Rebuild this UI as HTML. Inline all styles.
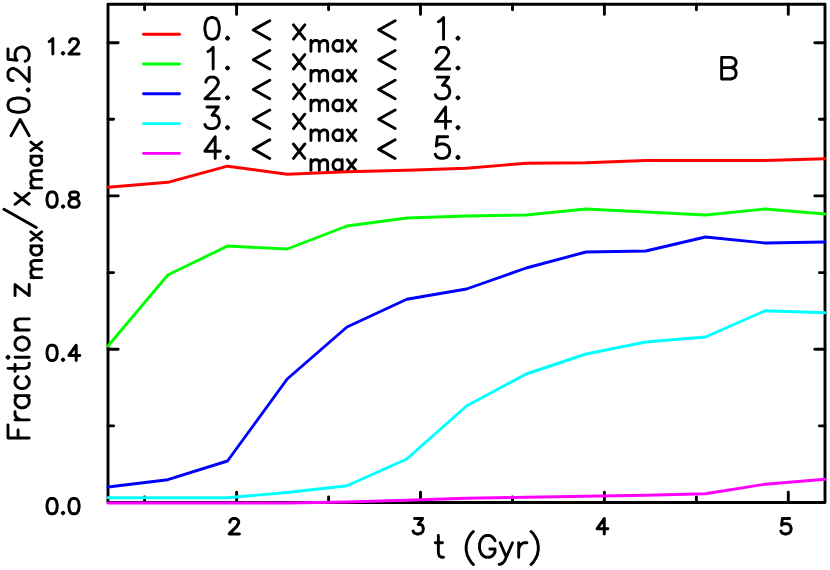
<!DOCTYPE html><html><head><meta charset="utf-8"><title>Fraction zmax/xmax&gt;0.25 vs t (Gyr) - panel B</title><style>html,body{margin:0;padding:0;background:#fff;overflow:hidden;width:830px;height:570px}svg{display:block}text{font-family:"Liberation Sans",sans-serif;fill:#000;fill-opacity:0;stroke:none}</style></head><body>
<svg width="830" height="570" viewBox="0 0 830 570" role="img" aria-label="Line chart B: Fraction zmax/xmax&gt;0.25 versus t (Gyr) for five xmax ranges">
<title>Fraction zmax/xmax&gt;0.25 versus t (Gyr), panel B</title>
<desc>Five curves for 0. &lt; xmax &lt; 1. (red), 1. &lt; xmax &lt; 2. (green), 2. &lt; xmax &lt; 3. (blue), 3. &lt; xmax &lt; 4. (cyan), 4. &lt; xmax &lt; 5. (magenta); x axis t (Gyr) from 1.3 to 5.2, y axis 0.0 to 1.3. Text is drawn as Hershey-style stroke paths.</desc>
<rect width="830" height="570" fill="#fff"/>
<clipPath id="c"><rect x="108.0" y="4.2" width="718.4" height="501.3"/></clipPath>
<g fill="none" stroke="#000" stroke-width="2.9" stroke-linecap="round" stroke-linejoin="round">
<rect x="108.0" y="4.2" width="717.0" height="498.3"/>
<path d="M144.6,502.5v-5.6M144.6,4.2v5.6M236.6,502.5v-10.2M236.6,4.2v10.2M328.6,502.5v-5.6M328.6,4.2v5.6M420.5,502.5v-10.2M420.5,4.2v10.2M512.5,502.5v-5.6M512.5,4.2v5.6M604.4,502.5v-10.2M604.4,4.2v10.2M696.4,502.5v-5.6M696.4,4.2v5.6M788.3,502.5v-10.2M788.3,4.2v10.2M108.0,425.9h5.6M825.0,425.9h-5.6M108.0,349.2h10.2M825.0,349.2h-10.2M108.0,272.6h5.6M825.0,272.6h-5.6M108.0,195.9h10.2M825.0,195.9h-10.2M108.0,119.3h5.6M825.0,119.3h-5.6M108.0,42.7h10.2M825.0,42.7h-10.2"/>
</g>
<path d="M239.41,533.90L229.19,533.90L236.49,526.60L237.95,524.41L238.68,522.95L238.68,521.49L237.95,520.03L237.22,519.30L235.76,518.57L232.84,518.57L231.38,519.30L230.65,520.03L229.92,521.49L229.92,522.22M414.55,518.57L422.58,518.57L418.20,524.41L420.39,524.41L421.85,525.14L422.58,525.87L423.31,528.06L423.31,529.52L422.58,531.71L421.12,533.17L418.93,533.90L416.74,533.90L414.55,533.17L413.82,532.44L413.09,530.98M607.94,528.79L596.99,528.79L604.29,518.57L604.29,533.90M780.89,530.98L781.62,532.44L782.35,533.17L784.54,533.90L786.73,533.90L788.92,533.17L790.38,531.71L791.11,529.52L791.11,528.06L790.38,525.87L788.92,524.41L786.73,523.68L784.54,523.68L782.35,524.41L781.62,525.14L782.35,518.57L789.65,518.57M51.37,513.80L49.18,513.07L47.72,510.88L46.99,507.23L46.99,505.04L47.72,501.39L49.18,499.20L51.37,498.47L52.83,498.47L55.02,499.20L56.48,501.39L57.21,505.04L57.21,507.23L56.48,510.88L55.02,513.07L52.83,513.80ZM63.05,513.80L62.32,513.07L63.05,512.34L63.78,513.07ZM73.27,513.80L71.08,513.07L69.62,510.88L68.89,507.23L68.89,505.04L69.62,501.39L71.08,499.20L73.27,498.47L74.73,498.47L76.92,499.20L78.38,501.39L79.11,505.04L79.11,507.23L78.38,510.88L76.92,513.07L74.73,513.80ZM51.37,360.52L49.18,359.79L47.72,357.60L46.99,353.95L46.99,351.76L47.72,348.11L49.18,345.92L51.37,345.19L52.83,345.19L55.02,345.92L56.48,348.11L57.21,351.76L57.21,353.95L56.48,357.60L55.02,359.79L52.83,360.52ZM63.05,360.52L62.32,359.79L63.05,359.06L63.78,359.79ZM79.84,355.41L68.89,355.41L76.19,345.19L76.19,360.52M51.37,207.24L49.18,206.51L47.72,204.32L46.99,200.67L46.99,198.48L47.72,194.83L49.18,192.64L51.37,191.91L52.83,191.91L55.02,192.64L56.48,194.83L57.21,198.48L57.21,200.67L56.48,204.32L55.02,206.51L52.83,207.24ZM63.05,207.24L62.32,206.51L63.05,205.78L63.78,206.51ZM77.65,206.51L75.46,207.24L72.54,207.24L70.35,206.51L69.62,205.78L68.89,204.32L68.89,202.13L69.62,200.67L71.08,199.21L73.27,198.48L76.19,197.75L77.65,197.02L78.38,195.56L78.38,194.10L77.65,192.64L75.46,191.91L72.54,191.91L70.35,192.64L69.62,194.10L69.62,195.56L70.35,197.02L71.81,197.75L74.73,198.48L76.92,199.21L78.38,200.67L79.11,202.13L79.11,204.32L78.38,205.78ZM49.18,41.55L50.64,40.82L52.83,38.63L52.83,53.96M63.05,53.96L62.32,53.23L63.05,52.50L63.78,53.23ZM79.11,53.96L68.89,53.96L76.19,46.66L77.65,44.47L78.38,43.01L78.38,41.55L77.65,40.09L76.92,39.36L75.46,38.63L72.54,38.63L71.08,39.36L70.35,40.09L69.62,41.55L69.62,42.28" fill="none" stroke="#000" stroke-width="2.95" stroke-linecap="round" stroke-linejoin="round" />
<line x1="143.5" x2="179.5" y1="34.2" y2="34.2" stroke="#ff0000" stroke-width="2.9" stroke-linecap="round"/>
<line x1="143.5" x2="179.5" y1="64.0" y2="64.0" stroke="#00ff00" stroke-width="2.9" stroke-linecap="round"/>
<line x1="143.5" x2="179.5" y1="93.8" y2="93.8" stroke="#0000ff" stroke-width="2.9" stroke-linecap="round"/>
<line x1="143.5" x2="179.5" y1="123.6" y2="123.6" stroke="#00ffff" stroke-width="2.9" stroke-linecap="round"/>
<line x1="143.5" x2="179.5" y1="153.4" y2="153.4" stroke="#ff00ff" stroke-width="2.9" stroke-linecap="round"/>
<path d="M211.07,39.20L207.98,38.17L205.92,35.08L204.89,29.93L204.89,26.84L205.92,21.69L207.98,18.60L211.07,17.57L213.13,17.57L216.22,18.60L218.28,21.69L219.31,26.84L219.31,29.93L218.28,35.08L216.22,38.17L213.13,39.20ZM227.55,39.20L226.52,38.17L227.55,37.14L228.58,38.17ZM269.78,39.20L253.30,29.93L269.78,20.66M293.47,24.78L304.80,39.20M293.47,39.20L304.80,24.78M310.94,40.56L310.94,51.20M327.66,51.20L327.66,43.60L326.90,41.32L325.38,40.56L323.10,40.56L321.58,41.32L319.30,43.60L319.30,51.20M310.94,43.60L313.22,41.32L314.74,40.56L317.02,40.56L318.54,41.32L319.30,43.60M342.10,40.56L342.10,51.20M342.10,48.92L340.58,50.44L339.06,51.20L336.78,51.20L335.26,50.44L333.74,48.92L332.98,46.64L332.98,45.12L333.74,42.84L335.26,41.32L336.78,40.56L339.06,40.56L340.58,41.32L342.10,42.84M347.42,40.56L355.78,51.20M347.42,51.20L355.78,40.56M395.14,39.20L378.66,29.93L395.14,20.66M438.40,21.69L440.46,20.66L443.55,17.57L443.55,39.20M457.97,39.20L456.94,38.17L457.97,37.14L459.00,38.17ZM207.98,51.49L210.04,50.46L213.13,47.37L213.13,69.00M227.55,69.00L226.52,67.97L227.55,66.94L228.58,67.97ZM269.78,69.00L253.30,59.73L269.78,50.46M293.47,54.58L304.80,69.00M293.47,69.00L304.80,54.58M310.94,70.36L310.94,81.00M327.66,81.00L327.66,73.40L326.90,71.12L325.38,70.36L323.10,70.36L321.58,71.12L319.30,73.40L319.30,81.00M310.94,73.40L313.22,71.12L314.74,70.36L317.02,70.36L318.54,71.12L319.30,73.40M342.10,70.36L342.10,81.00M342.10,78.72L340.58,80.24L339.06,81.00L336.78,81.00L335.26,80.24L333.74,78.72L332.98,76.44L332.98,74.92L333.74,72.64L335.26,71.12L336.78,70.36L339.06,70.36L340.58,71.12L342.10,72.64M347.42,70.36L355.78,81.00M347.42,81.00L355.78,70.36M395.14,69.00L378.66,59.73L395.14,50.46M449.73,69.00L435.31,69.00L445.61,58.70L447.67,55.61L448.70,53.55L448.70,51.49L447.67,49.43L446.64,48.40L444.58,47.37L440.46,47.37L438.40,48.40L437.37,49.43L436.34,51.49L436.34,52.52M457.97,69.00L456.94,67.97L457.97,66.94L459.00,67.97ZM219.31,98.80L204.89,98.80L215.19,88.50L217.25,85.41L218.28,83.35L218.28,81.29L217.25,79.23L216.22,78.20L214.16,77.17L210.04,77.17L207.98,78.20L206.95,79.23L205.92,81.29L205.92,82.32M227.55,98.80L226.52,97.77L227.55,96.74L228.58,97.77ZM269.78,98.80L253.30,89.53L269.78,80.26M293.47,84.38L304.80,98.80M293.47,98.80L304.80,84.38M310.94,100.16L310.94,110.80M327.66,110.80L327.66,103.20L326.90,100.92L325.38,100.16L323.10,100.16L321.58,100.92L319.30,103.20L319.30,110.80M310.94,103.20L313.22,100.92L314.74,100.16L317.02,100.16L318.54,100.92L319.30,103.20M342.10,100.16L342.10,110.80M342.10,108.52L340.58,110.04L339.06,110.80L336.78,110.80L335.26,110.04L333.74,108.52L332.98,106.24L332.98,104.72L333.74,102.44L335.26,100.92L336.78,100.16L339.06,100.16L340.58,100.92L342.10,102.44M347.42,100.16L355.78,110.80M347.42,110.80L355.78,100.16M395.14,98.80L378.66,89.53L395.14,80.26M437.37,77.17L448.70,77.17L442.52,85.41L445.61,85.41L447.67,86.44L448.70,87.47L449.73,90.56L449.73,92.62L448.70,95.71L446.64,97.77L443.55,98.80L440.46,98.80L437.37,97.77L436.34,96.74L435.31,94.68M457.97,98.80L456.94,97.77L457.97,96.74L459.00,97.77ZM206.95,106.97L218.28,106.97L212.10,115.21L215.19,115.21L217.25,116.24L218.28,117.27L219.31,120.36L219.31,122.42L218.28,125.51L216.22,127.57L213.13,128.60L210.04,128.60L206.95,127.57L205.92,126.54L204.89,124.48M227.55,128.60L226.52,127.57L227.55,126.54L228.58,127.57ZM269.78,128.60L253.30,119.33L269.78,110.06M293.47,114.18L304.80,128.60M293.47,128.60L304.80,114.18M310.94,129.96L310.94,140.60M327.66,140.60L327.66,133.00L326.90,130.72L325.38,129.96L323.10,129.96L321.58,130.72L319.30,133.00L319.30,140.60M310.94,133.00L313.22,130.72L314.74,129.96L317.02,129.96L318.54,130.72L319.30,133.00M342.10,129.96L342.10,140.60M342.10,138.32L340.58,139.84L339.06,140.60L336.78,140.60L335.26,139.84L333.74,138.32L332.98,136.04L332.98,134.52L333.74,132.24L335.26,130.72L336.78,129.96L339.06,129.96L340.58,130.72L342.10,132.24M347.42,129.96L355.78,140.60M347.42,140.60L355.78,129.96M395.14,128.60L378.66,119.33L395.14,110.06M450.76,121.39L435.31,121.39L445.61,106.97L445.61,128.60M457.97,128.60L456.94,127.57L457.97,126.54L459.00,127.57ZM220.34,151.19L204.89,151.19L215.19,136.77L215.19,158.40M227.55,158.40L226.52,157.37L227.55,156.34L228.58,157.37ZM269.78,158.40L253.30,149.13L269.78,139.86M293.47,143.98L304.80,158.40M293.47,158.40L304.80,143.98M310.94,159.76L310.94,170.40M327.66,170.40L327.66,162.80L326.90,160.52L325.38,159.76L323.10,159.76L321.58,160.52L319.30,162.80L319.30,170.40M310.94,162.80L313.22,160.52L314.74,159.76L317.02,159.76L318.54,160.52L319.30,162.80M342.10,159.76L342.10,170.40M342.10,168.12L340.58,169.64L339.06,170.40L336.78,170.40L335.26,169.64L333.74,168.12L332.98,165.84L332.98,164.32L333.74,162.04L335.26,160.52L336.78,159.76L339.06,159.76L340.58,160.52L342.10,162.04M347.42,159.76L355.78,170.40M347.42,170.40L355.78,159.76M395.14,158.40L378.66,149.13L395.14,139.86M435.31,154.28L436.34,156.34L437.37,157.37L440.46,158.40L443.55,158.40L446.64,157.37L448.70,155.31L449.73,152.22L449.73,150.16L448.70,147.07L446.64,145.01L443.55,143.98L440.46,143.98L437.37,145.01L436.34,146.04L437.37,136.77L447.67,136.77M457.97,158.40L456.94,157.37L457.97,156.34L459.00,157.37Z" fill="none" stroke="#000" stroke-width="2.9" stroke-linecap="round" stroke-linejoin="round" />
<path d="M721.62,67.67L730.89,67.67L733.98,66.64L735.01,65.61L736.04,63.55L736.04,61.49L735.01,59.43L733.98,58.40L730.89,57.37L721.62,57.37L721.62,79.00L730.89,79.00L733.98,77.97L735.01,76.94L736.04,74.88L736.04,71.79L735.01,69.73L733.98,68.70L730.89,67.67" fill="none" stroke="#000" stroke-width="2.9" stroke-linecap="round" stroke-linejoin="round" />
<path d="M438.35,535.57L438.35,553.08L439.38,556.17L441.44,557.20L443.50,557.20M435.26,542.78L442.47,542.78M473.37,564.41L471.31,562.35L469.25,559.26L467.19,555.14L466.16,549.99L466.16,545.87L467.19,540.72L469.25,536.60L471.31,533.51L473.37,531.45M495.00,540.72L493.97,538.66L491.91,536.60L489.85,535.57L485.73,535.57L483.67,536.60L481.61,538.66L480.58,540.72L479.55,543.81L479.55,548.96L480.58,552.05L481.61,554.11L483.67,556.17L485.73,557.20L489.85,557.20L491.91,556.17L493.97,554.11L495.00,552.05L495.00,548.96L489.85,548.96M500.15,542.78L506.33,557.20L512.51,542.78M499.12,564.41L500.15,564.41L502.21,563.38L504.27,561.32L506.33,557.20M518.69,542.78L518.69,557.20M518.69,548.96L519.72,545.87L521.78,543.81L523.84,542.78L526.93,542.78M531.05,531.45L533.11,533.51L535.17,536.60L537.23,540.72L538.26,545.87L538.26,549.99L537.23,555.14L535.17,559.26L533.11,562.35L531.05,564.41" fill="none" stroke="#000" stroke-width="2.9" stroke-linecap="round" stroke-linejoin="round" />
<text x="234.3" y="533.9" font-size="21" text-anchor="middle">2</text>
<text x="418.2" y="533.9" font-size="21" text-anchor="middle">3</text>
<text x="602.1" y="533.9" font-size="21" text-anchor="middle">4</text>
<text x="786.0" y="533.9" font-size="21" text-anchor="middle">5</text>
<text x="80" y="513.8" font-size="21" text-anchor="end">0.0</text>
<text x="80" y="360.5" font-size="21" text-anchor="end">0.4</text>
<text x="80" y="207.2" font-size="21" text-anchor="end">0.8</text>
<text x="80" y="54.0" font-size="21" text-anchor="end">1.2</text>
<text x="202" y="39.2" font-size="30">0. &lt; x<tspan font-size="22" dy="12">max</tspan><tspan dy="-12"> &lt;  1.</tspan></text>
<text x="202" y="69.0" font-size="30">1. &lt; x<tspan font-size="22" dy="12">max</tspan><tspan dy="-12"> &lt;  2.</tspan></text>
<text x="202" y="98.8" font-size="30">2. &lt; x<tspan font-size="22" dy="12">max</tspan><tspan dy="-12"> &lt;  3.</tspan></text>
<text x="202" y="128.6" font-size="30">3. &lt; x<tspan font-size="22" dy="12">max</tspan><tspan dy="-12"> &lt;  4.</tspan></text>
<text x="202" y="158.4" font-size="30">4. &lt; x<tspan font-size="22" dy="12">max</tspan><tspan dy="-12"> &lt;  5.</tspan></text>
<text x="717" y="79" font-size="30">B</text>
<text x="433" y="557" font-size="30">t (Gyr)</text>
<text transform="translate(29.2,442.1) rotate(-90)" font-size="30">Fraction z<tspan font-size="22" dy="12">max</tspan><tspan dy="-12">/x</tspan><tspan font-size="22" dy="12">max</tspan><tspan dy="-12">&gt;0.25</tspan></text>
<path d="M17.17,-21.21L4.04,-21.21L4.04,0.00M4.04,-11.11L12.12,-11.11M22.22,-14.14L22.22,0.00M22.22,-8.08L23.23,-11.11L25.25,-13.13L27.27,-14.14L30.30,-14.14M46.46,-14.14L46.46,0.00M46.46,-3.03L44.44,-1.01L42.42,0.00L39.39,0.00L37.37,-1.01L35.35,-3.03L34.34,-6.06L34.34,-8.08L35.35,-11.11L37.37,-13.13L39.39,-14.14L42.42,-14.14L44.44,-13.13L46.46,-11.11M65.65,-3.03L63.63,-1.01L61.61,0.00L58.58,0.00L56.56,-1.01L54.54,-3.03L53.53,-6.06L53.53,-8.08L54.54,-11.11L56.56,-13.13L58.58,-14.14L61.61,-14.14L63.63,-13.13L65.65,-11.11M73.73,-21.21L73.73,-4.04L74.74,-1.01L76.76,0.00L78.78,0.00M70.70,-14.14L77.77,-14.14M84.84,-14.14L84.84,0.00M84.84,-20.20L83.83,-21.21L84.84,-22.22L85.85,-21.21ZM105.04,-6.06L104.03,-3.03L102.01,-1.01L99.99,0.00L96.96,0.00L94.94,-1.01L92.92,-3.03L91.91,-6.06L91.91,-8.08L92.92,-11.11L94.94,-13.13L96.96,-14.14L99.99,-14.14L102.01,-13.13L104.03,-11.11L105.04,-8.08ZM112.11,-14.14L112.11,0.00M112.11,-10.10L115.14,-13.13L117.16,-14.14L120.19,-14.14L122.21,-13.13L123.22,-10.10L123.22,0.00M157.56,0.00L146.45,0.00L157.56,-14.14L146.45,-14.14M164.49,1.65L164.49,12.50M181.54,12.50L181.54,4.75L180.77,2.42L179.22,1.65L176.89,1.65L175.34,2.42L173.02,4.75L173.02,12.50M164.49,4.75L166.82,2.42L168.37,1.65L170.69,1.65L172.24,2.42L173.02,4.75M196.27,1.65L196.27,12.50M196.27,10.18L194.72,11.72L193.17,12.50L190.84,12.50L189.29,11.72L187.74,10.18L186.97,7.85L186.97,6.30L187.74,3.97L189.29,2.42L190.84,1.65L193.17,1.65L194.72,2.42L196.27,3.97M201.69,1.65L210.22,12.50M201.69,12.50L210.22,1.65M214.56,7.07L232.74,-25.25M237.79,-14.14L248.90,0.00M237.79,0.00L248.90,-14.14M254.23,1.65L254.23,12.50M271.28,12.50L271.28,4.75L270.51,2.42L268.96,1.65L266.63,1.65L265.08,2.42L262.76,4.75L262.76,12.50M254.23,4.75L256.56,2.42L258.11,1.65L260.43,1.65L261.98,2.42L262.76,4.75M286.01,1.65L286.01,12.50M286.01,10.18L284.46,11.72L282.91,12.50L280.58,12.50L279.03,11.72L277.48,10.18L276.71,7.85L276.71,6.30L277.48,3.97L279.03,2.42L280.58,1.65L282.91,1.65L284.46,2.42L286.01,3.97M291.43,1.65L299.96,12.50M291.43,12.50L299.96,1.65M306.36,-18.18L322.68,-9.09L306.36,0.00M335.94,0.00L332.88,-1.01L330.84,-4.04L329.82,-9.09L329.82,-12.12L330.84,-17.17L332.88,-20.20L335.94,-21.21L337.98,-21.21L341.04,-20.20L343.08,-17.17L344.10,-12.12L344.10,-9.09L343.08,-4.04L341.04,-1.01L337.98,0.00ZM352.26,0.00L351.24,-1.01L352.26,-2.02L353.28,-1.01ZM374.70,0.00L360.42,0.00L370.62,-10.10L372.66,-13.13L373.68,-15.15L373.68,-17.17L372.66,-19.19L371.64,-20.20L369.60,-21.21L365.52,-21.21L363.48,-20.20L362.46,-19.19L361.44,-17.17L361.44,-16.16M380.82,-4.04L381.84,-2.02L382.86,-1.01L385.92,0.00L388.98,0.00L392.04,-1.01L394.08,-3.03L395.10,-6.06L395.10,-8.08L394.08,-11.11L392.04,-13.13L388.98,-14.14L385.92,-14.14L382.86,-13.13L381.84,-12.12L382.86,-21.21L393.06,-21.21" fill="none" stroke="#000" stroke-width="2.9" stroke-linecap="round" stroke-linejoin="round" transform="translate(29.2,442.1) rotate(-90)"/>
<polyline points="108.0,187.2 167.8,182.3 227.5,166.2 287.2,174.2 347.0,171.8 406.8,170.3 466.5,168.3 526.2,163.3 586.0,162.8 645.8,160.5 705.5,160.5 765.2,160.5 825.0,158.7" fill="none" stroke="#ff0000" stroke-width="2.9" stroke-linejoin="round" stroke-linecap="round"/>
<polyline points="108.0,346.0 167.8,275.0 227.5,246.0 287.2,249.0 347.0,226.0 406.8,218.0 466.5,216.0 526.2,215.0 586.0,209.0 645.8,212.0 705.5,215.0 765.2,209.0 825.0,214.0" fill="none" stroke="#00ff00" stroke-width="2.9" stroke-linejoin="round" stroke-linecap="round"/>
<polyline points="108.0,487.0 167.8,479.7 227.5,461.0 287.2,379.0 347.0,327.0 406.8,299.3 466.5,289.0 526.2,268.0 586.0,252.0 645.8,251.0 705.5,237.0 765.2,243.0 825.0,242.0" fill="none" stroke="#0000ff" stroke-width="2.9" stroke-linejoin="round" stroke-linecap="round"/>
<polyline points="108.0,497.7 167.8,497.7 227.5,497.7 287.2,492.5 347.0,485.7 406.8,459.0 466.5,406.0 526.2,374.0 586.0,354.0 645.8,342.0 705.5,337.0 765.2,310.7 825.0,312.7" fill="none" stroke="#00ffff" stroke-width="2.9" stroke-linejoin="round" stroke-linecap="round"/>
<polyline points="108.0,503.0 167.8,503.0 227.5,503.0 287.2,503.0 347.0,502.0 406.8,500.3 466.5,498.3 526.2,497.3 586.0,496.3 645.8,495.3 705.5,493.8 765.2,484.2 825.0,479.3" fill="none" stroke="#ff00ff" stroke-width="2.9" stroke-linejoin="round" stroke-linecap="round"/>
</svg></body></html>
